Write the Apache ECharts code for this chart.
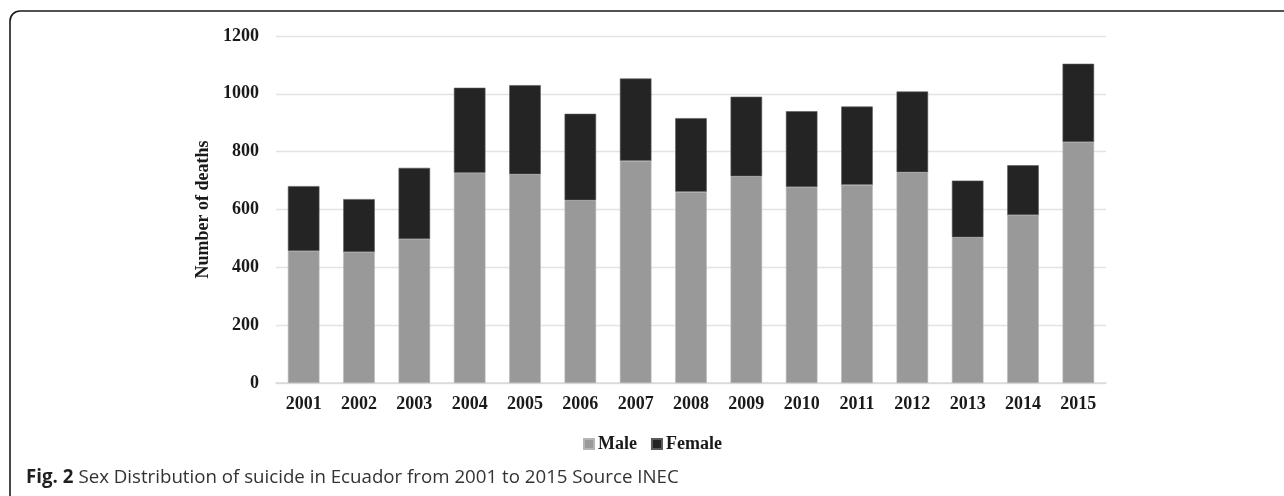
<!DOCTYPE html>
<html>
<head>
<meta charset="utf-8">
<script src="https://cdn.jsdelivr.net/npm/echarts@6/dist/echarts.min.js"></script>
<style>
html,body{margin:0;padding:0;background:#fff;}
#c{width:1284px;height:496px;}
</style>
</head>
<body>
<div id="c"></div>
<script>
var years = ['2001','2002','2003','2004','2005','2006','2007','2008','2009','2010','2011','2012','2013','2014','2015'];
var male =   [456, 453, 498, 727, 722, 632, 768, 661, 715, 678, 685, 729, 504, 581, 833];
var female = [225, 183, 246, 294, 308, 299, 285, 255, 275, 262, 271, 279, 196, 172, 271];
var yTicks = [0, 200, 400, 600, 800, 1000, 1200];

var serif = '"Liberation Serif", "Times New Roman", serif';
var chart = echarts.init(document.getElementById('c'), null, {renderer: 'canvas'});
chart.setOption({
  animation: false,
  backgroundColor: '#fff',
  graphic: [{
    type: 'rect',
    shape: {x: 10, y: 11, width: 1320, height: 496, r: 10},
    style: {fill: 'none', stroke: '#1a1a1a', lineWidth: 1.6},
    z: 0
  }],
  title: {
    left: 21, top: 463,
    text: '{b|Fig. 2} {r|Sex Distribution of suicide in Ecuador from 2001 to 2015 Source INEC}',
    textStyle: {
      rich: {
        b: {fontFamily: '"Open Sans", sans-serif', fontWeight: 'bold', fontSize: 18.7, color: '#231f20'},
        r: {fontFamily: '"Open Sans", sans-serif', fontWeight: 'normal', fontSize: 18.7, color: '#333'}
      }
    }
  },
  legend: {
    left: 578, top: 430,
    itemWidth: 10, itemHeight: 10, itemGap: 14,
    icon: 'rect',
    textStyle: {fontFamily: serif, fontWeight: 'bold', fontSize: 18, color: '#1a1a1a', padding: [0,0,0,-1]},
    data: ['Male', 'Female']
  },
  grid: {left: 276, right: 178, top: 36, bottom: 113},
  xAxis: {
    type: 'category',
    data: years,
    axisTick: {show: false},
    axisLine: {lineStyle: {color: '#d9d9d9', width: 1.5}},
    axisLabel: {fontFamily: serif, fontWeight: 'bold', fontSize: 18, color: '#1a1a1a', margin: 12}
  },
  yAxis: {
    type: 'value',
    min: yTicks[0], max: yTicks[yTicks.length-1], interval: 200,
    name: 'Number of deaths',
    nameLocation: 'middle',
    nameGap: 46,
    nameTextStyle: {fontFamily: serif, fontWeight: 'bold', fontSize: 18, color: '#1a1a1a'},
    axisLine: {show: false},
    axisTick: {show: false},
    splitLine: {lineStyle: {color: '#e3e3e3', width: 1.3}},
    axisLabel: {fontFamily: serif, fontWeight: 'bold', fontSize: 18, color: '#1a1a1a', margin: 17,
      formatter: function (v) { return String(v); }}
  },
  series: [
    {name: 'Male', type: 'bar', stack: 's', data: male, barWidth: '57%',
     itemStyle: {color: '#999999', borderColor: '#b5b5b5', borderWidth: 0.6}},
    {name: 'Female', type: 'bar', stack: 's', data: female, barWidth: '57%',
     itemStyle: {color: '#242424', borderColor: '#5a5a5a', borderWidth: 0.6}}
  ]
});
</script>
</body>
</html>
